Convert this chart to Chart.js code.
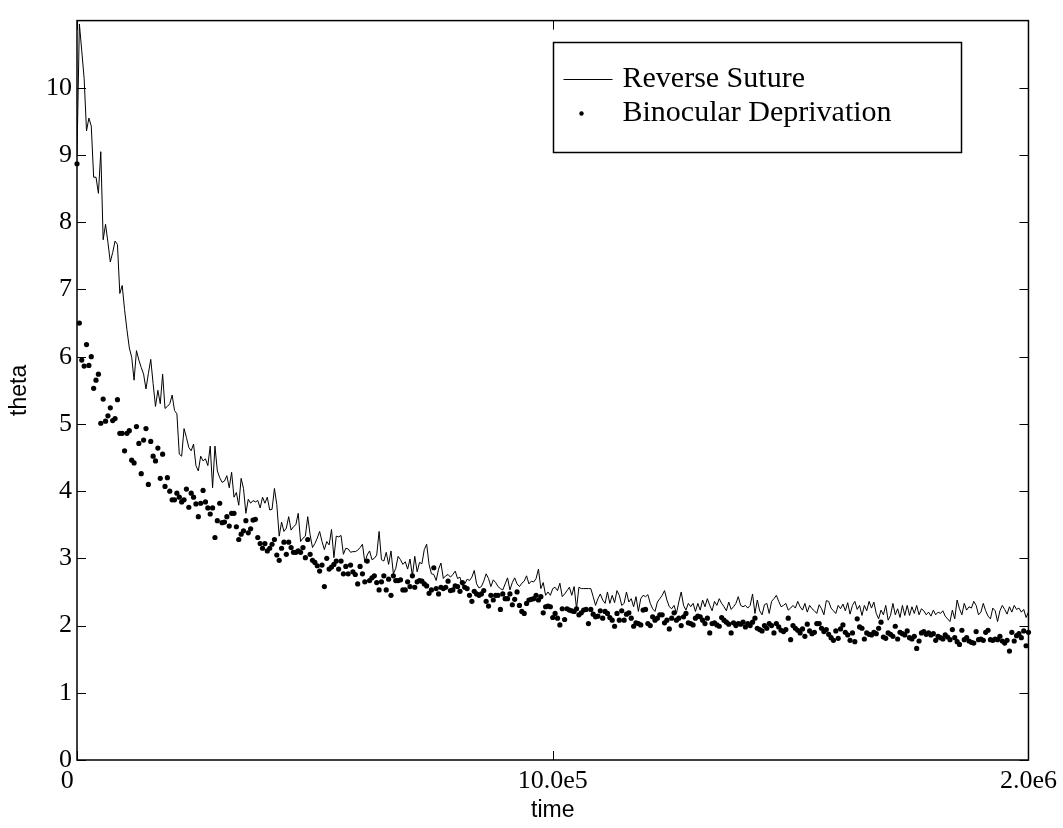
<!DOCTYPE html>
<html>
<head>
<meta charset="utf-8">
<title>theta vs time</title>
<script src="https://cdn.jsdelivr.net/npm/chart.js@4.4.0/dist/chart.umd.min.js"></script>
<style>
  body { margin: 0; background: #fff; }
  canvas { display: block; }
</style>
</head>
<body>
<canvas id="chart" width="1063" height="828"></canvas>
<script>
let timeStep = 5000;
let timeTicks = [0, 1000000, 2000000];
let timeTickLabels = ["0", "10.0e5", "2.0e6"];
let thetaTicks = [0, 1, 2, 3, 4, 5, 6, 7, 8, 9, 10];
let seriesNames = ["Reverse Suture", "Binocular Deprivation"];

// theta of the reverse suture run, one value every 5000 steps
let reverseSuture = [
  9.00, 10.95, 10.55, 10.14, 9.36, 9.55, 9.43, 8.67, 8.67, 8.43,
  9.05, 7.74, 7.97, 7.70, 7.41, 7.55, 7.72, 7.67, 6.94, 7.06,
  6.70, 6.40, 6.13, 5.99, 5.65, 6.09, 5.95, 5.84, 5.74, 5.52,
  5.75, 5.96, 5.60, 5.26, 5.50, 5.30, 5.74, 5.23, 5.26, 5.30,
  5.43, 5.20, 5.15, 4.55, 4.52, 4.93, 4.80, 4.65, 4.60, 4.70,
  4.38, 4.30, 4.52, 4.45, 4.48, 4.38, 4.67, 4.05, 4.67, 4.30,
  4.20, 4.13, 4.15, 4.23, 4.05, 4.28, 3.91, 3.98, 3.79, 4.19,
  4.04, 3.67, 3.88, 3.82, 3.86, 3.84, 3.86, 3.75, 3.91, 3.82,
  3.91, 3.72, 3.73, 4.04, 3.80, 3.33, 3.54, 3.40, 3.45, 3.62,
  3.42, 3.47, 3.50, 3.67, 3.25, 3.30, 3.33, 3.62, 3.35, 3.16,
  3.22, 3.30, 3.40, 3.25, 3.13, 3.25, 3.20, 3.43, 3.01, 3.33,
  3.32, 3.34, 3.06, 3.15, 3.14, 3.09, 3.10, 3.10, 3.12, 3.16,
  3.21, 2.94, 3.05, 3.11, 2.98, 3.00, 3.05, 3.40, 2.98, 2.96,
  3.09, 2.91, 3.11, 2.77, 2.85, 3.03, 2.98, 2.91, 2.95, 2.84,
  2.99, 2.74, 3.03, 2.80, 2.94, 2.92, 3.13, 3.21, 2.91, 2.77,
  2.76, 2.67, 2.84, 2.93, 2.70, 2.74, 2.76, 2.72, 2.76, 2.81,
  2.70, 2.72, 2.59, 2.62, 2.69, 2.67, 2.72, 2.82, 2.62, 2.56,
  2.58, 2.66, 2.77, 2.70, 2.58, 2.68, 2.64, 2.58, 2.55, 2.53,
  2.62, 2.71, 2.53, 2.64, 2.71, 2.62, 2.58, 2.63, 2.66, 2.74,
  2.62, 2.66, 2.65, 2.70, 2.84, 2.55, 2.64, 2.45, 2.50, 2.45,
  2.55, 2.57, 2.52, 2.63, 2.43, 2.47, 2.52, 2.57, 2.45, 2.58,
  2.25, 2.57, 2.55, 2.55, 2.55, 2.55, 2.55, 2.43, 2.30, 2.40,
  2.47, 2.38, 2.33, 2.50, 2.33, 2.45, 2.34, 2.52, 2.45, 2.30,
  2.33, 2.50, 2.35, 2.40, 2.28, 2.43, 2.21, 2.40, 2.45, 2.43,
  2.46, 2.33, 2.25, 2.21, 2.35, 2.40, 2.45, 2.52, 2.38, 2.28,
  2.25, 2.30, 2.18, 2.35, 2.50, 2.30, 2.23, 2.33, 2.28, 2.33,
  2.21, 2.33, 2.23, 2.38, 2.28, 2.40, 2.30, 2.22, 2.36, 2.30,
  2.40, 2.33, 2.28, 2.22, 2.35, 2.24, 2.28, 2.33, 2.43, 2.30,
  2.28, 2.30, 2.26, 2.30, 2.47, 2.18, 2.38, 2.22, 2.16, 2.31,
  2.33, 2.18, 2.36, 2.40, 2.45, 2.36, 2.28, 2.30, 2.33, 2.23,
  2.26, 2.30, 2.26, 2.36, 2.28, 2.23, 2.33, 2.20, 2.30, 2.25,
  2.22, 2.18, 2.31, 2.25, 2.16, 2.37, 2.36, 2.26, 2.22, 2.18,
  2.30, 2.25, 2.32, 2.22, 2.34, 2.17, 2.30, 2.36, 2.24, 2.30,
  2.15, 2.30, 2.22, 2.36, 2.26, 2.35, 2.18, 2.10, 2.23, 2.16,
  2.30, 2.08, 2.15, 2.33, 2.16, 2.25, 2.12, 2.30, 2.15, 2.30,
  2.15, 2.28, 2.18, 2.30, 2.16, 2.25, 2.22, 2.16, 2.20, 2.14,
  2.23, 2.16, 2.20, 2.18, 2.22, 2.14, 2.10, 2.06, 2.23, 2.10,
  2.38, 2.25, 2.16, 2.33, 2.23, 2.28, 2.26, 2.36, 2.30, 2.16,
  2.20, 2.33, 2.22, 2.14, 2.10, 2.26, 2.22, 2.06, 2.22, 2.30,
  2.24, 2.17, 2.28, 2.20, 2.30, 2.24, 2.26, 2.20, 2.24, 2.12,
  2.20
];

// theta of the binocular deprivation run, same sampling
let binocularDeprivation = [
  8.87, 6.50, 5.95, 5.86, 6.18, 5.87, 6.00, 5.53, 5.65, 5.74,
  5.01, 5.37, 5.04, 5.12, 5.24, 5.05, 5.08, 5.36, 4.86, 4.86,
  4.60, 4.86, 4.90, 4.46, 4.42, 4.96, 4.71, 4.26, 4.76, 4.93,
  4.10, 4.74, 4.52, 4.45, 4.64, 4.19, 4.55, 4.07, 4.20, 4.00,
  3.87, 3.87, 3.97, 3.91, 3.84, 3.87, 4.03, 3.76, 3.97, 3.91,
  3.81, 3.62, 3.82, 4.01, 3.84, 3.75, 3.66, 3.75, 3.31, 3.56,
  3.82, 3.53, 3.54, 3.62, 3.48, 3.67, 3.67, 3.47, 3.28, 3.36,
  3.41, 3.56, 3.38, 3.44, 3.57, 3.58, 3.31, 3.22, 3.15, 3.22,
  3.11, 3.15, 3.21, 3.28, 3.05, 2.97, 3.15, 3.24, 3.06, 3.24,
  3.16, 3.09, 3.09, 3.11, 3.09, 3.16, 3.01, 3.28, 3.06, 2.97,
  2.94, 2.89, 2.81, 2.90, 2.58, 3.00, 2.84, 2.87, 2.91, 2.96,
  2.84, 2.96, 2.77, 2.88, 2.77, 2.90, 2.80, 2.76, 2.62, 2.88,
  2.77, 2.65, 2.96, 2.67, 2.71, 2.74, 2.64, 2.53, 2.65, 2.74,
  2.53, 2.69, 2.45, 2.74, 2.67, 2.67, 2.68, 2.53, 2.53, 2.65,
  2.58, 2.74, 2.57, 2.65, 2.67, 2.66, 2.62, 2.59, 2.48, 2.53,
  2.86, 2.55, 2.47, 2.57, 2.55, 2.57, 2.66, 2.52, 2.53, 2.59,
  2.58, 2.51, 2.64, 2.57, 2.55, 2.45, 2.36, 2.51, 2.47, 2.45,
  2.47, 2.52, 2.36, 2.29, 2.45, 2.38, 2.45, 2.45, 2.24, 2.47,
  2.40, 2.40, 2.47, 2.31, 2.39, 2.50, 2.30, 2.21, 2.18, 2.33,
  2.38, 2.39, 2.40, 2.45, 2.38, 2.43, 2.19, 2.28, 2.29, 2.28,
  2.12, 2.18, 2.11, 2.01, 2.25, 2.09, 2.25, 2.23, 2.22, 2.21,
  2.25, 2.16, 2.19, 2.23, 2.24, 2.03, 2.24, 2.17, 2.13, 2.14,
  2.22, 2.11, 2.21, 2.18, 2.12, 2.08, 1.99, 2.18, 2.08, 2.22,
  2.08, 2.17, 2.19, 2.11, 1.99, 2.04, 2.03, 2.01, 2.23, 2.24,
  2.03, 2.00, 2.13, 2.08, 2.11, 2.16, 2.16, 2.04, 2.08, 1.95,
  2.11, 2.19, 2.08, 2.11, 2.00, 2.13, 2.18, 2.04, 2.03, 2.01,
  2.11, 2.14, 2.13, 2.08, 2.03, 2.11, 1.89, 2.03, 2.04, 2.01,
  1.99, 2.12, 2.08, 2.05, 2.02, 1.89, 2.04, 2.00, 2.03, 2.02,
  2.05, 1.98, 2.03, 2.00, 2.05, 2.11, 1.96, 1.94, 1.92, 2.00,
  1.96, 2.03, 2.00, 1.89, 2.03, 1.98, 1.93, 1.91, 1.94, 2.11,
  1.79, 2.00, 1.96, 1.93, 1.89, 1.95, 1.84, 2.02, 1.92, 1.88,
  1.90, 2.03, 2.03, 1.96, 1.91, 1.94, 1.87, 1.82, 1.78, 1.92,
  1.81, 1.95, 2.01, 1.90, 1.86, 1.78, 1.89, 1.76, 2.10, 1.98,
  1.96, 1.80, 1.89, 1.87, 1.86, 1.90, 1.88, 1.96, 2.05, 1.83,
  1.81, 1.89, 1.87, 1.84, 1.99, 1.80, 1.90, 1.88, 1.86, 1.92,
  1.82, 1.80, 1.84, 1.66, 1.77, 1.89, 1.91, 1.87, 1.89, 1.86,
  1.88, 1.78, 1.84, 1.82, 1.80, 1.86, 1.83, 1.79, 1.94, 1.82,
  1.76, 1.72, 1.93, 1.79, 1.82, 1.77, 1.75, 1.74, 1.91, 1.79,
  1.80, 1.78, 1.90, 1.93, 1.79, 1.78, 1.80, 1.79, 1.84, 1.77,
  1.74, 1.78, 1.62, 1.90, 1.77, 1.85, 1.88, 1.82, 1.92, 1.70,
  1.90
];

let times = reverseSuture.map((v, i) => i * timeStep);

function toPoints(values) {
  return values.map((v, i) => ({ x: times[i], y: v }));
}

let serifFont = "'Liberation Serif', 'Times New Roman', serif";
let sansFont = "'Liberation Sans', Arial, sans-serif";

// box around the plot plus inward tick marks on all four sides
const frameTicks = {
  id: "frameTicks",
  afterDatasetsDraw(chart) {
    const ctx = chart.ctx;
    const a = chart.chartArea;
    const x = chart.scales.x;
    const y = chart.scales.y;
    ctx.save();
    ctx.strokeStyle = "#000";
    ctx.lineWidth = 1.5;
    ctx.strokeRect(a.left, a.top, a.right - a.left, a.bottom - a.top);
    ctx.lineWidth = 1;
    ctx.beginPath();
    y.ticks.forEach((t) => {
      let py = Math.round(y.getPixelForValue(t.value)) + 0.5;
      ctx.moveTo(a.left, py);
      ctx.lineTo(a.left + 9, py);
      ctx.moveTo(a.right, py);
      ctx.lineTo(a.right - 9, py);
    });
    x.ticks.forEach((t) => {
      let px = Math.round(x.getPixelForValue(t.value)) + 0.5;
      ctx.moveTo(px, a.bottom);
      ctx.lineTo(px, a.bottom - 9);
      ctx.moveTo(px, a.top);
      ctx.lineTo(px, a.top + 9);
    });
    ctx.stroke();
    ctx.restore();
  },
};

// legend box in the upper right of the plot
const boxLegend = {
  id: "boxLegend",
  afterDraw(chart) {
    const ctx = chart.ctx;
    const x = chart.scales.x;
    let left = Math.round(x.getPixelForValue(timeTicks[1])) + 0.5;
    let top = 42.5;
    let w = 408;
    let h = 110;
    ctx.save();
    ctx.fillStyle = "#fff";
    ctx.fillRect(left, top, w, h);
    ctx.strokeStyle = "#000";
    ctx.lineWidth = 1.5;
    ctx.strokeRect(left, top, w, h);

    ctx.lineWidth = 1;
    ctx.beginPath();
    ctx.moveTo(left + 10, top + 37);
    ctx.lineTo(left + 59, top + 37);
    ctx.stroke();

    ctx.fillStyle = "#000";
    ctx.beginPath();
    ctx.arc(left + 28, top + 71, 2.2, 0, Math.PI * 2);
    ctx.fill();

    ctx.font = "30px " + serifFont;
    ctx.textBaseline = "middle";
    ctx.textAlign = "left";
    ctx.fillText(seriesNames[0], left + 69, top + 37);
    ctx.fillText(seriesNames[1], left + 69, top + 71);
    ctx.restore();
  },
};

const chart = document.getElementById("chart");
new Chart(chart, {
  type: "scatter",
  data: {
    datasets: [
      {
        label: seriesNames[0],
        data: toPoints(reverseSuture),
        showLine: true,
        borderColor: "#000",
        borderWidth: 1,
        pointRadius: 0,
        tension: 0,
        order: 2,
      },
      {
        label: seriesNames[1],
        data: toPoints(binocularDeprivation),
        showLine: false,
        pointRadius: 2.6,
        pointBackgroundColor: "#000",
        pointBorderWidth: 0,
        clip: false,
        order: 1,
      },
    ],
  },
  options: {
    responsive: false,
    devicePixelRatio: 1,
    animation: false,
    layout: {
      padding: { top: 11, right: 32, left: 0, bottom: 0 },
    },
    plugins: {
      legend: { display: false },
      title: { display: false },
      tooltip: { enabled: false },
    },
    scales: {
      x: {
        type: "linear",
        min: 0,
        max: 2000000,
        afterBuildTicks: (s) => {
          s.ticks = timeTicks.map((v) => ({ value: v }));
        },
        afterFit: (s) => {
          s.height = 68;
        },
        grid: { display: false, drawTicks: false },
        border: { display: false },
        ticks: {
          autoSkip: false,
          maxRotation: 0,
          padding: 6,
          color: "#000",
          font: { family: serifFont, size: 26 },
          // the 0 sits a little left of the axis, under the y-axis 0
          callback: (v) => {
            let label = timeTickLabels[timeTicks.indexOf(v)];
            return v === 0 ? label + "   " : label;
          },
        },
        title: {
          display: true,
          text: "time",
          color: "#000",
          font: { family: sansFont, size: 23 },
          padding: { top: 0, bottom: 4 },
        },
      },
      y: {
        min: 0,
        max: 11,
        afterBuildTicks: (s) => {
          s.ticks = thetaTicks.map((v) => ({ value: v }));
        },
        afterFit: (s) => {
          s.width = 77;
        },
        grid: { display: false, drawTicks: false },
        border: { display: false },
        ticks: {
          padding: 5,
          color: "#000",
          font: { family: serifFont, size: 26 },
        },
        title: {
          display: true,
          text: "theta",
          color: "#000",
          font: { family: sansFont, size: 23 },
          padding: { top: 6, bottom: 0 },
        },
      },
    },
  },
  plugins: [frameTicks, boxLegend],
});
</script>
</body>
</html>
